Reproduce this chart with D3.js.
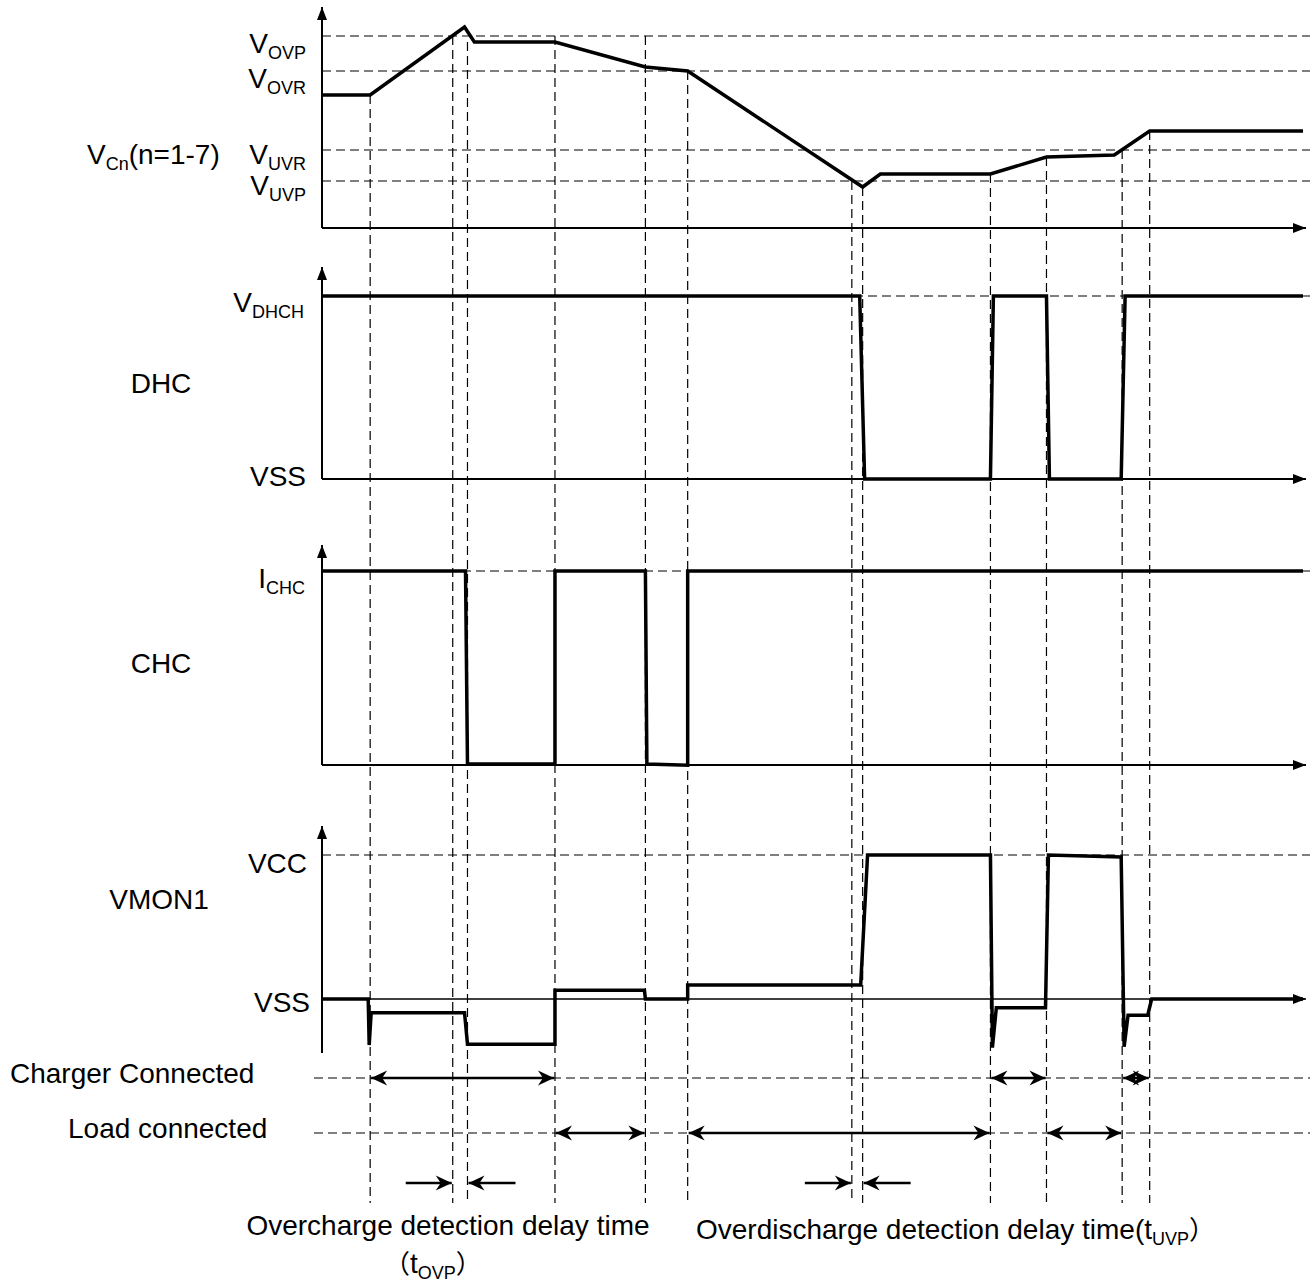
<!DOCTYPE html>
<html>
<head>
<meta charset="utf-8">
<script src="https://cdn.jsdelivr.net/npm/d3@7"></script>
<style>
body { margin: 0; background: #fff; }
text { font-family: "Liberation Sans", Arial, "Noto Sans CJK SC", sans-serif; fill: #000; }
.cjk { font-family: "Noto Sans CJK SC", sans-serif; }
</style>
</head>
<body>
<svg width="1315" height="1283"></svg>
<script>
// time runs 0..100 (arbitrary units) along every trace
var markers    = [4.9, 13.3, 14.8, 23.7, 32.9, 37.2, 53.9, 55.0, 68.0, 73.7, 81.4, 84.2];
var markerTops = [66.5, 96, 93, 96, 96, 78.5, 23.5, 20.5, 27, 35.5, 39, 48.5];   // in cell-voltage units

// VCn trace
var cellLevels = [96, 78.5, 39, 23.5];
var cellLabels = [["V", "OVP"], ["V", "OVR"], ["V", "UVR"], ["V", "UVP"]];
var cellT = [0, 4.9, 14.5, 15.5, 23.7, 32.9, 37.2, 55.0, 56.8, 68.0, 73.7, 80.6, 84.2, 99.8];
var cellV = [66.5, 66.5, 100.5, 93, 93, 80.5, 78.5, 20.5, 27, 27, 35.5, 36.5, 48.5, 48.5];

// DHC trace (0 = VSS, 1 = VDHCH)
var dhcT = [0, 54.7, 55.2, 68.0, 68.3, 73.7, 74.0, 81.3, 81.7, 99.8];
var dhcV = [1, 1, 0, 0, 1, 1, 0, 0, 1, 1];

// CHC trace (0 = off, 1 = ICHC)
var chcT = [0, 14.6, 14.8, 23.7, 23.7, 32.9, 33.05, 37.2, 37.2, 99.8];
var chcV = [1, 1, 0, 0, 1, 1, 0, -0.006, 1, 1];

// VMON1 trace (0 = VSS, 5 = VCC)
var vmonT = [0, 4.7, 4.8, 5.0, 14.5, 14.8, 23.7, 23.7, 32.8, 32.9, 37.2, 37.2, 54.8, 55.5,
             68.0, 68.2, 68.6, 73.6, 73.9, 81.3, 81.6, 82.0, 84.0, 84.4, 99.8];
var vmonV = [0, 0, -1.6, -0.48, -0.48, -1.57, -1.57, 0.3, 0.3, 0, 0, 0.49, 0.49, 5,
             5, -1.69, -0.3, -0.3, 5, 4.93, -1.66, -0.56, -0.56, 0, 0];

var chargerSpans = [[4.9, 23.7], [68.0, 73.7], [81.4, 84.2]];
var loadSpans    = [[23.7, 32.9], [37.2, 68.0], [73.7, 81.4]];
var delaySpans   = [[13.3, 14.8], [53.9, 55.0]];

var svg = d3.select('svg');

var x  = d3.scaleLinear().domain([0, 100]).range([322, 1305]);
var y1 = d3.scaleLinear().domain([0, 100]).range([228, 28]);
var y2 = d3.scaleLinear().domain([0, 1]).range([479, 296]);
var y3 = d3.scaleLinear().domain([0, 1]).range([764, 571]);
var y4 = d3.scaleLinear().domain([0, 5]).range([999, 855]);

var dashRight = 1310;
var rowCharger = 1078, rowLoad = 1133, rowDelay = 1183, vBottom = 1203;

var defs = svg.append('defs');
defs.append('marker')
    .attr('id', 'axisHead')
    .attr('markerUnits', 'userSpaceOnUse')
    .attr('viewBox', '-14 -6 16 12')
    .attr('markerWidth', 16).attr('markerHeight', 12)
    .attr('refX', 0).attr('refY', 0)
    .attr('orient', 'auto')
    .append('path').attr('d', 'M0,0 L-13,-5 L-13,5 Z').attr('fill', '#000');
defs.append('marker')
    .attr('id', 'head')
    .attr('markerUnits', 'userSpaceOnUse')
    .attr('viewBox', '-17 -8 18 16')
    .attr('markerWidth', 18).attr('markerHeight', 16)
    .attr('refX', 0).attr('refY', 0)
    .attr('orient', 'auto-start-reverse')
    .append('path').attr('d', 'M0,0 L-16,-7.5 L-11,0 L-16,7.5 Z').attr('fill', '#000');

var dashes = svg.append('g')
    .attr('stroke', '#000')
    .attr('stroke-width', 1.2)
    .attr('stroke-dasharray', '9,5')
    .attr('fill', 'none');

// vertical time markers
dashes.selectAll('.vm')
    .data(markers)
    .enter()
    .append('line')
    .attr('x1', function (d) { return x(d); })
    .attr('x2', function (d) { return x(d); })
    .attr('y1', function (d, i) { return y1(markerTops[i]); })
    .attr('y2', vBottom);

// horizontal threshold lines
var hLevels = cellLevels.map(y1).concat([y2(1), y3(1), y4(5)]);
dashes.selectAll('.hl')
    .data(hLevels)
    .enter()
    .append('line')
    .attr('x1', x(0)).attr('x2', dashRight)
    .attr('y1', function (d) { return d; })
    .attr('y2', function (d) { return d; });

// charger / load rows
[rowCharger, rowLoad].forEach(function (r) {
    dashes.append('line')
        .attr('x1', 314).attr('x2', dashRight)
        .attr('y1', r).attr('y2', r);
});

// axes
function axis(yTop, yBase, yBottom, xArrow, thin) {
    svg.append('line')
        .attr('x1', x(0)).attr('x2', x(0))
        .attr('y1', yBottom).attr('y2', yTop)
        .attr('stroke', '#000').attr('stroke-width', 2)
        .attr('marker-end', 'url(#axisHead)');
    svg.append('line')
        .attr('x1', x(0)).attr('x2', xArrow)
        .attr('y1', yBase).attr('y2', yBase)
        .attr('stroke', '#000').attr('stroke-width', thin ? 1.6 : 2)
        .attr('marker-end', 'url(#axisHead)');
}
axis(7, y1(0), y1(0), 1306);
axis(267, y2(0), y2(0), 1306);
axis(545, y3(0) + 1, y3(0) + 1, 1306);
axis(826, y4(0), 1053, 1306, true);

// traces
function trace(ts, vs, ys) {
    var pts = ts.map(function (t, i) { return [t, vs[i]]; });
    svg.append('path')
        .datum(pts)
        .attr('d', d3.line()
            .x(function (d) { return x(d[0]); })
            .y(function (d) { return ys(d[1]); }))
        .attr('fill', 'none')
        .attr('stroke', '#000')
        .attr('stroke-width', 3.5)
        .attr('stroke-linejoin', 'miter');
}
trace(cellT, cellV, y1);
trace(dhcT, dhcV, y2);
trace(chcT, chcV, y3);
trace(vmonT, vmonV, y4);

// double arrows on charger / load rows
function spans(list, row) {
    svg.selectAll(null)
        .data(list)
        .enter()
        .append('line')
        .attr('x1', function (d) { return x(d[0]) + 1; })
        .attr('x2', function (d) { return x(d[1]) - 1; })
        .attr('y1', row).attr('y2', row)
        .attr('stroke', '#000').attr('stroke-width', 2.5)
        .attr('marker-start', 'url(#head)')
        .attr('marker-end', 'url(#head)');
}
spans(chargerSpans, rowCharger);
spans(loadSpans, rowLoad);

// delay time indicators (arrows pointing inward)
delaySpans.forEach(function (d) {
    svg.append('line')
        .attr('x1', x(d[0]) - 47).attr('x2', x(d[0]) - 1)
        .attr('y1', rowDelay).attr('y2', rowDelay)
        .attr('stroke', '#000').attr('stroke-width', 2.5)
        .attr('marker-end', 'url(#head)');
    svg.append('line')
        .attr('x1', x(d[1]) + 48).attr('x2', x(d[1]) + 1)
        .attr('y1', rowDelay).attr('y2', rowDelay)
        .attr('stroke', '#000').attr('stroke-width', 2.5)
        .attr('marker-end', 'url(#head)');
});

// labels
function label(px, py, main, sub, anchor, after, cjkMain) {
    var t = svg.append('text')
        .attr('x', px).attr('y', py)
        .attr('font-size', 28)
        .attr('text-anchor', anchor || 'end');
    if (cjkMain) {
        t.append('tspan').attr('class', 'cjk').attr('font-size', 26).text(cjkMain);
    }
    t.append('tspan').text(main);
    if (sub) {
        t.append('tspan').attr('font-size', 18).attr('dy', 6).text(sub);
    }
    if (after) {
        t.append('tspan').attr('class', 'cjk').attr('font-size', 26).attr('dy', -6).text(after);
    }
    return t;
}
var labelDy = [17, 17, 14, 14];
cellLevels.forEach(function (v, i) {
    label(306, y1(v) + labelDy[i], cellLabels[i][0], cellLabels[i][1]);
});
var vcn = label(87, 164, 'V', 'Cn', 'start');
vcn.append('tspan').attr('dy', -6).text('(n=1-7)');

label(304, y2(1) + 16, 'V', 'DHCH');
label(306, y2(0) + 7, 'VSS');
label(305, y3(1) + 17, 'I', 'CHC');
label(307, y4(5) + 18, 'VCC');
label(310, y4(0) + 13, 'VSS');

label(161, 393, 'DHC', null, 'middle');
label(161, 673, 'CHC', null, 'middle');
label(159, 909, 'VMON1', null, 'middle');

label(10, rowCharger + 5, 'Charger Connected', null, 'start');
label(68, rowLoad + 5, 'Load connected', null, 'start');

label(448, 1235, 'Overcharge detection delay time', null, 'middle');
label(384, 1273, 't', 'OVP', 'start', '\uFF09', '\uFF08');
label(696, 1239, 'Overdischarge detection delay time(t', 'UVP', 'start', '\uFF09');
</script>
</body>
</html>
